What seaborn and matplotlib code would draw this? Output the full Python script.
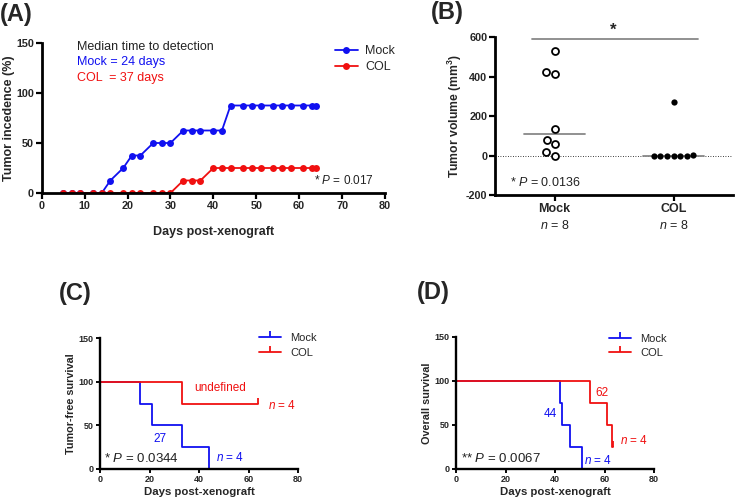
import numpy as np
import pandas as pd
import matplotlib
matplotlib.use("Agg")
import matplotlib.pyplot as plt
from matplotlib.lines import Line2D
import seaborn as sns

sns.set_theme(style="ticks")
plt.rcParams['font.family'] = ['Liberation Sans', 'DejaVu Sans']
plt.rcParams['mathtext.fontset'] = 'custom'
plt.rcParams['mathtext.it'] = 'Liberation Sans:italic'
plt.rcParams['mathtext.bf'] = 'Liberation Sans:bold'
plt.rcParams['mathtext.rm'] = 'Liberation Sans'
plt.rcParams['axes.unicode_minus'] = False

BLUE = '#1010F0'
RED = '#F01010'

# ---------------- Panel A data ----------------
days_a = [5, 7, 9, 12, 14, 16, 19, 21, 23, 26, 28, 30, 33, 35, 37, 40, 42, 44,
          47, 49, 51, 54, 56, 58, 61, 63, 64]
incidence_mock = [0, 0, 0, 0, 0, 12.5, 25, 37.5, 37.5, 50, 50, 50, 62.5, 62.5,
                  62.5, 62.5, 62.5, 87.5, 87.5, 87.5, 87.5, 87.5, 87.5, 87.5,
                  87.5, 87.5, 87.5]
incidence_col = [0, 0, 0, 0, 0, 0, 0, 0, 0, 0, 0, 0, 12.5, 12.5, 12.5, 25, 25,
                 25, 25, 25, 25, 25, 25, 25, 25, 25, 25]

# ---------------- Panel B data ----------------
groups_b = ['Mock', 'COL']
volume_mock = [530, 425, 415, 135, 78, 56, 0, 20]
volume_col = [272, 0, 0, 4, 0, 0, 0, 0]

# ---------------- Panel C data ----------------
tfs_mock_days = [0, 16, 21, 33, 44]
tfs_mock_surv = [100, 75, 50, 25, 0]
tfs_col_days = [0, 33, 64]
tfs_col_surv = [100, 75, 75]
tfs_col_censor_day = [64]
tfs_col_censor_surv = [75]

# ---------------- Panel D data ----------------
os_mock_days = [0, 42, 43, 46, 51]
os_mock_surv = [100, 75, 50, 25, 0]
os_col_days = [0, 54, 61, 63, 63.6]
os_col_surv = [100, 75, 50, 25, 25]
os_col_censor_day = [63.6]
os_col_censor_surv = [25]

W, H = 735, 501
fig = plt.figure(figsize=(7.35, 5.01), dpi=100)


def frac(l, t, r, b):
    return [l / W, 1 - b / H, (r - l) / W, (b - t) / H]


def style_axes(ax, lw=1.8, tick_fs=7):
    sns.despine(ax=ax)
    for s in ['left', 'bottom']:
        ax.spines[s].set_linewidth(lw)
        ax.spines[s].set_color('black')
    ax.tick_params(axis='both', width=lw * 0.8, length=4, color='black',
                   labelsize=tick_fs, pad=1.5)
    for lab in ax.get_xticklabels() + ax.get_yticklabels():
        lab.set_fontweight('bold')


# ================= Panel A =================
axA = fig.add_axes(frac(41.7, 43, 385, 193))
dfA = pd.DataFrame({
    'day': days_a + days_a,
    'inc': incidence_mock + incidence_col,
    'group': ['Mock'] * len(days_a) + ['COL'] * len(days_a),
})
sns.lineplot(data=dfA, x='day', y='inc', hue='group', hue_order=['Mock', 'COL'],
             palette={'Mock': BLUE, 'COL': RED}, marker='o', markersize=5,
             markeredgewidth=0, linewidth=1.3, ax=axA, legend=False,
             estimator=None)
axA.set_xlim(0, 80)
axA.set_ylim(0, 150)
axA.set_xticks(range(0, 81, 10))
axA.set_yticks([0, 50, 100, 150])
axA.set_xlabel('Days post-xenograft', fontsize=9, fontweight='bold', labelpad=11)
axA.set_ylabel('Tumor incedence (%)', fontsize=9, fontweight='bold', labelpad=1)
style_axes(axA, lw=2.0, tick_fs=7.8)
axA.text(8.2, 146, 'Median time to detection', fontsize=9, color='#222222', va='center')
axA.text(8.2, 131, 'Mock = 24 days', fontsize=9, color=BLUE, va='center')
axA.text(8.2, 115.5, 'COL  = 37 days', fontsize=9, color=RED, va='center')
axA.text(77.5, 12, r'* $\mathit{P}$ = 0.017', fontsize=8.5, color='#222222',
         ha='right', va='center')
hA = [Line2D([], [], color=BLUE, marker='o', markersize=5, lw=1.3, markeredgewidth=0),
      Line2D([], [], color=RED, marker='o', markersize=5, lw=1.3, markeredgewidth=0)]
axA.legend(hA, ['Mock', 'COL'], loc='upper left', bbox_to_anchor=(0.84, 1.02),
           frameon=False, fontsize=9, handlelength=1.8, handletextpad=0.6,
           labelspacing=0.35, borderaxespad=0)

# ================= Panel B =================
axB = fig.add_axes(frac(495, 37, 733, 195))
dfB = pd.DataFrame({
    'group': ['Mock'] * len(volume_mock) + ['COL'] * len(volume_col),
    'vol': volume_mock + volume_col,
})
sns.swarmplot(data=dfB[dfB.group == 'Mock'], x='group', y='vol', order=groups_b,
              color='white', edgecolor='black', linewidth=1.3, size=5, ax=axB)
sns.swarmplot(data=dfB[dfB.group == 'COL'], x='group', y='vol', order=groups_b,
              color='black', size=4.5, ax=axB)
axB.set_xlim(-0.5, 1.5)
axB.set_ylim(-200, 600)
axB.axhline(0, color='black', lw=0.6, ls=(0, (1, 2)), zorder=0)
for i, g in enumerate(groups_b):
    med = np.median(dfB[dfB.group == g].vol)
    axB.plot([i - 0.26, i + 0.26], [med, med], color='#888888', lw=1.3, zorder=1)
axB.plot([-0.19, 1.21], [590, 590], color='#888888', lw=1.3, clip_on=False)
axB.text(0.49, 598, '*', fontsize=12, fontweight='bold', ha='center', va='bottom')
axB.set_yticks([-200, 0, 200, 400, 600])
axB.set_xticks([0, 1])
axB.set_xticklabels(groups_b)
axB.set_xlabel('')
axB.set_ylabel('Tumor volume (mm$^\\mathbf{3}$)', fontsize=8.8, fontweight='bold',
               labelpad=1)
style_axes(axB, lw=2.0, tick_fs=7.8)
for lab in axB.get_xticklabels():
    lab.set_fontsize(9)
    lab.set_fontweight('bold')
for i in range(2):
    axB.text(i, -0.195, r'$\mathit{n}$ = 8', transform=axB.get_xaxis_transform(),
             fontsize=9, ha='center', va='center', color='#222222')
axB.text(-0.37, -135, r'* $\mathit{P}$ = 0.0136', fontsize=9, color='#222222',
         va='center')


# ================= Panels C & D =================
def km_panel(ax, md, ms, cd, cs, cen_d, cen_s, ylabel):
    sns.lineplot(x=md, y=ms, drawstyle='steps-post', color=BLUE, lw=1.3, ax=ax,
                 estimator=None)
    sns.lineplot(x=cd, y=cs, drawstyle='steps-post', color=RED, lw=1.3, ax=ax,
                 estimator=None)
    ax.plot(cen_d, cen_s, ls='none', marker=2, markersize=4, mew=1.3, color=RED)
    ax.set_xlim(0, 80)
    ax.set_ylim(0, 150)
    ax.set_xticks([0, 20, 40, 60, 80])
    ax.set_yticks([0, 50, 100, 150])
    ax.set_xlabel('Days post-xenograft', fontsize=8.2, fontweight='bold', labelpad=2)
    ax.set_ylabel(ylabel, fontsize=7.8, fontweight='bold', labelpad=2)
    style_axes(ax, lw=1.7, tick_fs=6.5)
    ax.tick_params(length=3)


axC = fig.add_axes(frac(100, 338, 298, 469))
km_panel(axC, tfs_mock_days, tfs_mock_surv, tfs_col_days, tfs_col_surv,
         tfs_col_censor_day, tfs_col_censor_surv, 'Tumor-free survival')
axC.text(48.5, 92.5, 'undefined', color=RED, fontsize=8.5, ha='center', va='center')
axC.text(24.2, 34, '27', color=BLUE, fontsize=8.5, ha='center', va='center')
axC.text(52.5, 13.5, r'$\mathit{n}$ = 4', color=BLUE, fontsize=8.5, ha='center', va='center')
axC.text(73.5, 73, r'$\mathit{n}$ = 4', color=RED, fontsize=8.5, ha='center', va='center')
axC.text(1.6, 11.5, r'* $\mathit{P}$ = 0.0344', color='#222222', fontsize=9.5,
         ha='left', va='center')
hC = [Line2D([], [], color=BLUE, marker=2, markersize=4, lw=1.3, mew=1.3),
      Line2D([], [], color=RED, marker=2, markersize=4, lw=1.3, mew=1.3)]
axC.legend(hC, ['Mock', 'COL'], loc='upper left', bbox_to_anchor=(0.78, 1.07),
           frameon=False, fontsize=8, handlelength=2.0, handletextpad=0.8,
           labelspacing=0.4, borderaxespad=0)

axD = fig.add_axes(frac(456, 337, 654, 469))
km_panel(axD, os_mock_days, os_mock_surv, os_col_days, os_col_surv,
         os_col_censor_day, os_col_censor_surv, 'Overall survival')
axD.text(59.1, 86.5, '62', color=RED, fontsize=8.5, ha='center', va='center')
axD.text(38, 62.5, '44', color=BLUE, fontsize=8.5, ha='center', va='center')
axD.text(71.8, 32, r'$\mathit{n}$ = 4', color=RED, fontsize=8.5, ha='center', va='center')
axD.text(57.5, 9.5, r'$\mathit{n}$ = 4', color=BLUE, fontsize=8.5, ha='center', va='center')
axD.text(1.9, 12.2, r'** $\mathit{P}$ = 0.0067', color='#222222', fontsize=9.5,
         ha='left', va='center')
hD = [Line2D([], [], color=BLUE, marker=2, markersize=4, lw=1.3, mew=1.3),
      Line2D([], [], color=RED, marker=2, markersize=4, lw=1.3, mew=1.3)]
axD.legend(hD, ['Mock', 'COL'], loc='upper left', bbox_to_anchor=(0.75, 1.06),
           frameon=False, fontsize=8, handlelength=2.0, handletextpad=0.8,
           labelspacing=0.4, borderaxespad=0)

# ================= Panel labels =================
fig.text(0.0, 0.972, '(A)', fontsize=17, fontweight='bold', va='center', ha='left')
fig.text(0.586, 0.976, '(B)', fontsize=17, fontweight='bold', va='center', ha='left')
fig.text(0.080, 0.415, '(C)', fontsize=17, fontweight='bold', va='center', ha='left')
fig.text(0.567, 0.417, '(D)', fontsize=17, fontweight='bold', va='center', ha='left')

fig.savefig('out.png', dpi=100)
